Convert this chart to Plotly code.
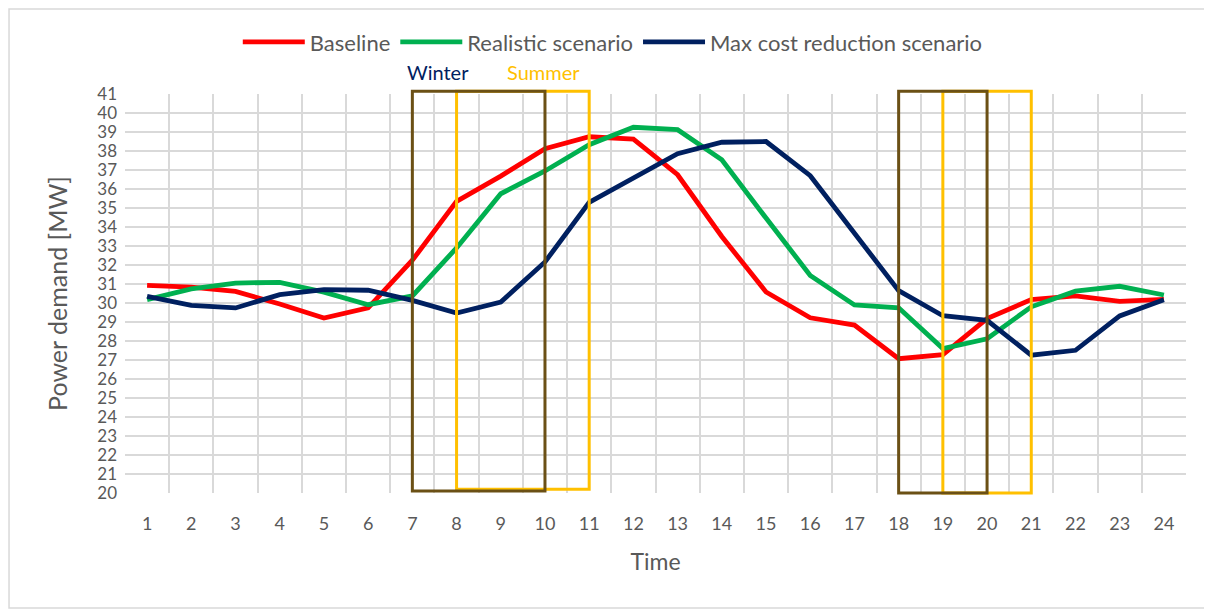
import plotly.graph_objects as go

hours = list(range(1, 25))
baseline = [30.93, 30.84, 30.61, 29.95, 29.21, 29.74, 32.25, 35.35, 36.68, 38.12, 38.75, 38.63,
            36.75, 33.5, 30.58, 29.22, 28.84, 27.07, 27.28, 29.18, 30.18, 30.37, 30.09, 30.19]
realistic = [30.18, 30.74, 31.05, 31.09, 30.57, 29.91, 30.37, 32.9, 35.75, 36.95, 38.33, 39.25,
             39.12, 37.54, 34.47, 31.45, 29.9, 29.75, 27.6, 28.12, 29.8, 30.62, 30.88, 30.42]
maxcost = [30.35, 29.88, 29.74, 30.44, 30.7, 30.67, 30.14, 29.47, 30.05, 32.16, 35.3, 36.58,
           37.86, 38.46, 38.5, 36.7, 33.68, 30.65, 29.33, 29.09, 27.25, 27.51, 29.32, 30.17]

series_names = ["Baseline", "Realistic scenario", "Max cost reduction scenario"]
series_colors = ["#FF0000", "#00B050", "#002060"]

# highlighted periods: (start hour, end hour, bottom, top) in data units
winter_periods = [(7, 10, 20.1, 41.15), (18, 20, 20.0, 41.15)]
summer_periods = [(8, 11, 20.2, 41.15), (19, 21, 20.0, 41.15)]
winter_color = "#6B5015"
summer_color = "#FFC000"

X_RANGE = [0.5, 24.5]
Y_RANGE = [20, 41]

FONT = "Lato, Open Sans, sans-serif"
GREY = "#595959"


def px(h):
    return (h - X_RANGE[0]) / (X_RANGE[1] - X_RANGE[0])


def py(v):
    return (v - Y_RANGE[0]) / (Y_RANGE[1] - Y_RANGE[0])


fig = go.Figure()
for name, vals, col in zip(series_names, [baseline, realistic, maxcost], series_colors):
    fig.add_trace(go.Scatter(x=hours, y=vals, mode="lines", name=name,
                             line=dict(color=col, width=4.8)))

shapes = []
for (a, b, y0, y1) in summer_periods:
    shapes.append(dict(type="rect", xref="paper", yref="paper", x0=px(a), x1=px(b),
                       y0=py(y0), y1=py(y1),
                       line=dict(color=summer_color, width=3), layer="above"))
for (a, b, y0, y1) in winter_periods:
    shapes.append(dict(type="rect", xref="paper", yref="paper", x0=px(a), x1=px(b),
                       y0=py(y0), y1=py(y1),
                       line=dict(color=winter_color, width=3), layer="above"))
# chart-area border
shapes.append(dict(type="rect", xref="paper", yref="paper", x0=-0.1093, x1=1.03,
                   y0=-0.288, y1=1.213, line=dict(color="#D9D9D9", width=1.5), layer="below"))

fig.update_layout(
    width=1212, height=610,
    margin=dict(l=117, r=34, t=86, b=125),
    paper_bgcolor="white", plot_bgcolor="white",
    font=dict(family=FONT, color=GREY, size=17),
    shapes=shapes,
    showlegend=True,
    legend=dict(orientation="h", xref="container", yref="container",
                x=0.499, y=0.944, xanchor="center", yanchor="middle",
                font=dict(size=22, color=GREY), traceorder="normal", itemwidth=62),
    annotations=[
        dict(text="Winter", x=0.295, y=1.055, xref="paper", yref="paper", showarrow=False,
             xanchor="center", yanchor="middle",
             font=dict(size=20, color="#002060", family=FONT)),
        dict(text="Summer", x=0.394, y=1.055, xref="paper", yref="paper", showarrow=False,
             xanchor="center", yanchor="middle",
             font=dict(size=20, color=summer_color, family=FONT)),
    ],
)

fig.update_xaxes(range=X_RANGE, tickvals=hours, ticktext=[str(h) for h in hours],
                 showgrid=False, zeroline=False, showline=False,
                 minor=dict(tick0=0.5, dtick=1, showgrid=True, gridcolor="#D9D9D9", gridwidth=1.5),
                 ticklabelstandoff=18, tickfont=dict(size=18, color=GREY),
                 title=dict(text="Time", font=dict(size=23, color=GREY), standoff=20))
fig.update_yaxes(range=Y_RANGE, dtick=1, tick0=20,
                 showgrid=True, gridcolor="#D9D9D9", gridwidth=1.5, zeroline=False, showline=False,
                 tickfont=dict(size=17, color=GREY), ticklabelstandoff=7,
                 title=dict(text="Power demand [MW]", font=dict(size=25, color=GREY), standoff=22))

fig.write_html("out.html")
